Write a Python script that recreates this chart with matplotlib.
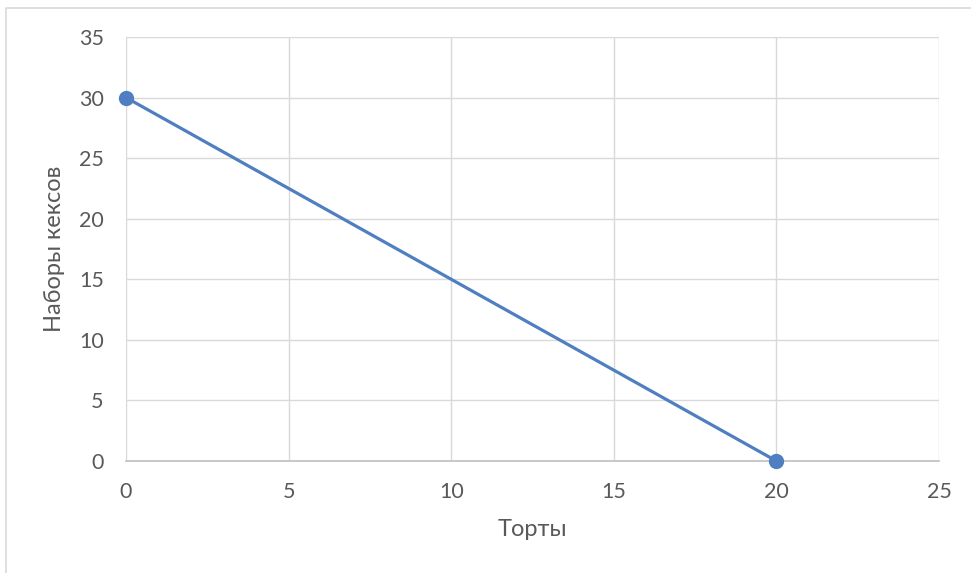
import matplotlib
matplotlib.use('Agg')
import matplotlib.pyplot as plt
from matplotlib.lines import Line2D

# Budget line: cakes vs. sets of cupcakes
cakes = [0, 20]
cupcake_sets = [30, 0]
x_ticks = [0, 5, 10, 15, 20, 25]
y_ticks = [0, 5, 10, 15, 20, 25, 30, 35]

LINE_COLOR = '#4F7FC0'
GRID_COLOR = '#D9D9D9'
TEXT_COLOR = '#595959'

plt.rcParams['font.family'] = ['Lato', 'DejaVu Sans']

W, H = 971, 573
fig = plt.figure(figsize=(W / 100, H / 100), dpi=100)
ax = fig.add_axes([126 / W, 1 - 461 / H, (939 - 126) / W, (461 - 37) / H])

ax.plot(cakes, cupcake_sets, color=LINE_COLOR, linewidth=2.3, marker='o',
        markersize=10, clip_on=False, zorder=3)

ax.set_xlim(0, 25)
ax.set_ylim(0, 35)
ax.set_xticks(x_ticks)
ax.set_yticks(y_ticks)
ax.grid(True, color=GRID_COLOR, linewidth=1.0)
ax.set_axisbelow(True)
for side in ['top', 'right', 'left']:
    ax.spines[side].set_visible(False)
ax.spines['bottom'].set_color('#BFBFBF')
ax.spines['bottom'].set_linewidth(1.2)
ax.tick_params(length=0, labelsize=15.5, labelcolor=TEXT_COLOR)
ax.tick_params(axis='x', pad=15)
ax.tick_params(axis='y', pad=16)

ax.set_xlabel('Торты', fontsize=17, color=TEXT_COLOR, labelpad=12)
ax.set_ylabel('Наборы кексов', fontsize=17, color=TEXT_COLOR, labelpad=10)

# chart frame: top and left edges
fig.add_artist(Line2D([6 / W, 6 / W, 1], [0, 1 - 8 / H, 1 - 8 / H],
                      transform=fig.transFigure, color='#D9D9D9', linewidth=1.2))

fig.savefig('out.png', dpi=100)
